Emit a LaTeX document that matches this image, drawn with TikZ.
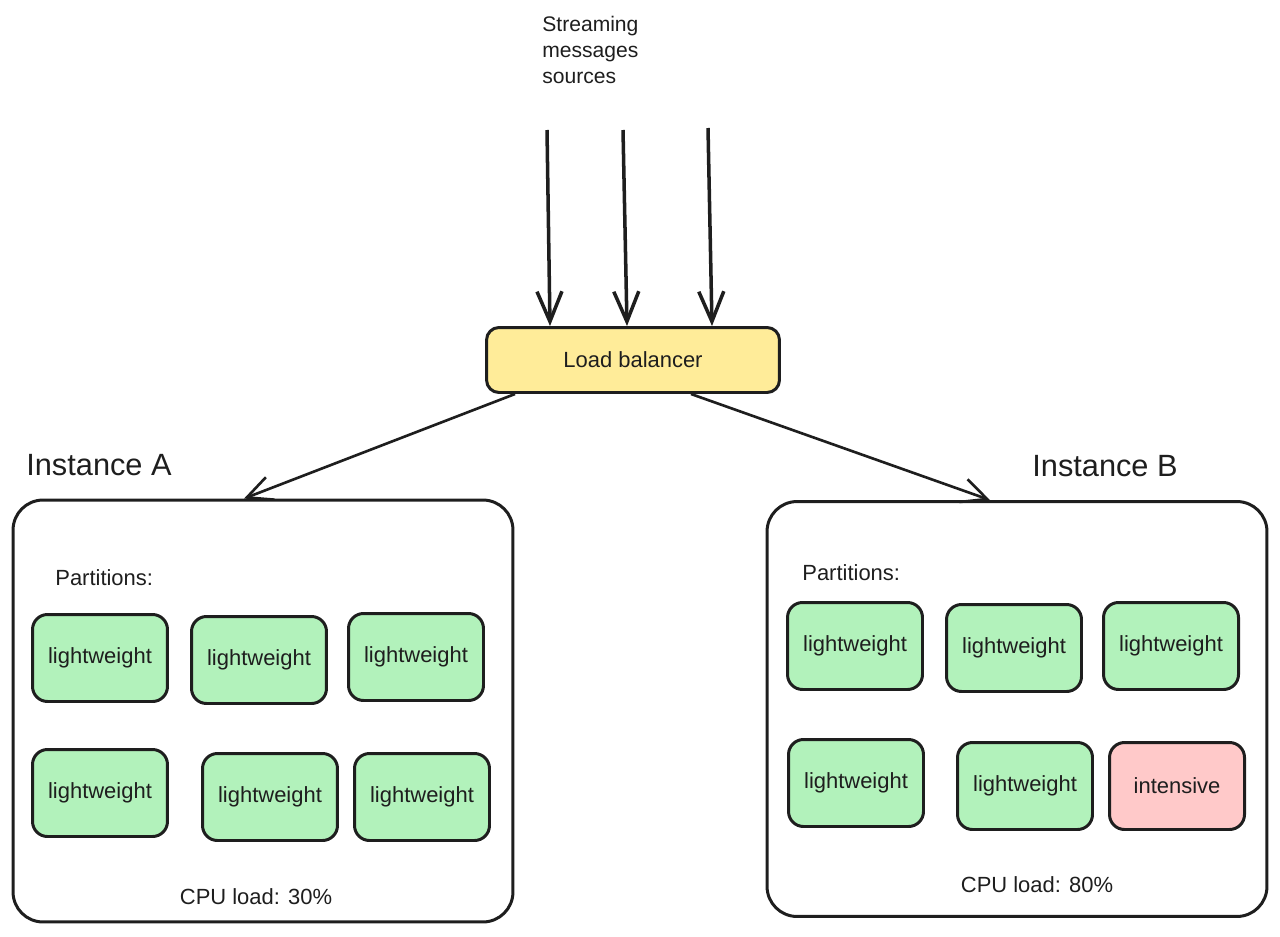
\documentclass[tikz,border=0pt]{standalone}
\usepackage{fontspec}
\setmainfont{Liberation Sans}
\usepackage{xcolor}
\usepackage{tikz}
\usetikzlibrary{arrows.meta, positioning}

\definecolor{ink}{HTML}{1E1E1E}
\definecolor{lbyellow}{HTML}{FFEC99}
\definecolor{partgreen}{HTML}{B2F2BB}
\definecolor{partred}{HTML}{FFC9C9}

\begin{document}
\begin{tikzpicture}[
    x=0.02cm, y=-0.02cm,
    every node/.style={text=ink},
    inst/.style={rectangle, draw=ink, line width=1.7pt, rounded corners=0.6cm, minimum width=10cm},
    part/.style={rectangle, draw=ink, fill=partgreen, line width=1.7pt, rounded corners=0.3cm,
                 minimum width=2.7cm, minimum height=1.74cm, font=\fontsize{12.5}{15}\selectfont},
    heavy/.style={part, fill=partred},
    lbbox/.style={rectangle, draw=ink, fill=lbyellow, line width=1.7pt, rounded corners=0.25cm,
                  minimum width=5.86cm, minimum height=1.3cm, font=\fontsize{12.5}{15}\selectfont},
    srcarrow/.style={-{Straight Barb[length=0.6cm, width=0.5cm]}, draw=ink, line width=2pt},
    arrow/.style={-{Straight Barb[length=0.5cm, width=0.48cm]}, draw=ink, line width=1.5pt},
    title/.style={font=\fontsize{17.5}{21}\selectfont},
    label/.style={font=\fontsize{12.5}{15}\selectfont}
]
\useasboundingbox (0,0) rectangle (1280,936);

% Streaming sources (top)
\node[label, align=left, anchor=north west, inner sep=0pt, font=\fontsize{12}{14.7}\selectfont] (sources) at (542,16)
    {Streaming\\messages\\sources};
\coordinate (s1) at (547,130);
\coordinate (s2) at (623,130);
\coordinate (s3) at (708,128);

% Load balancer
\node[lbbox] (lb) at (633,360) {Load balancer};

\draw[srcarrow] (s1) -- ([xshift=-83*0.02cm]lb.north);
\draw[srcarrow] (s2) -- ([xshift=-6*0.02cm]lb.north);
\draw[srcarrow] (s3) -- ([xshift=79*0.02cm]lb.north);

% Instance A (left)
\node[inst, minimum height=8.44cm] (instA) at (263,711) {};
\node[title, anchor=west, inner sep=0pt] (titleA) at (26,465) {Instance A};
\node[label, anchor=west, inner sep=0pt] (partsA) at (55,578) {Partitions:};
\node[part] (a1) at (100,658) {lightweight};
\node[part] (a2) at (259,660) {lightweight};
\node[part] (a3) at (416,657) {lightweight};
\node[part] (a4) at (100,793) {lightweight};
\node[part] (a5) at (270,797) {lightweight};
\node[part] (a6) at (422,797) {lightweight};
\node[label] (cpuA) at (256,897) {CPU load: 30\%};

% Instance B (right)
\node[inst, minimum height=8.3cm] (instB) at (1017,709) {};
\node[title, anchor=west, inner sep=0pt] (titleB) at (1032,466) {Instance B};
\node[label, anchor=west, inner sep=0pt] (partsB) at (802,573) {Partitions:};
\node[part] (b1) at (855,646) {lightweight};
\node[part] (b2) at (1014,648) {lightweight};
\node[part] (b3) at (1171,646) {lightweight};
\node[part] (b4) at (856,783) {lightweight};
\node[part] (b5) at (1025,786) {lightweight};
\node[heavy] (b6) at (1177,786) {intensive};
\node[label] (cpuB) at (1037,885) {CPU load: 80\%};

% Arrows from load balancer to instances
\draw[arrow] ([xshift=30*0.02cm]lb.south west) -- ([xshift=-19*0.02cm]instA.north);
\draw[arrow] ([xshift=-90*0.02cm]lb.south east) -- ([xshift=-27*0.02cm]instB.north);

\end{tikzpicture}
\end{document}
